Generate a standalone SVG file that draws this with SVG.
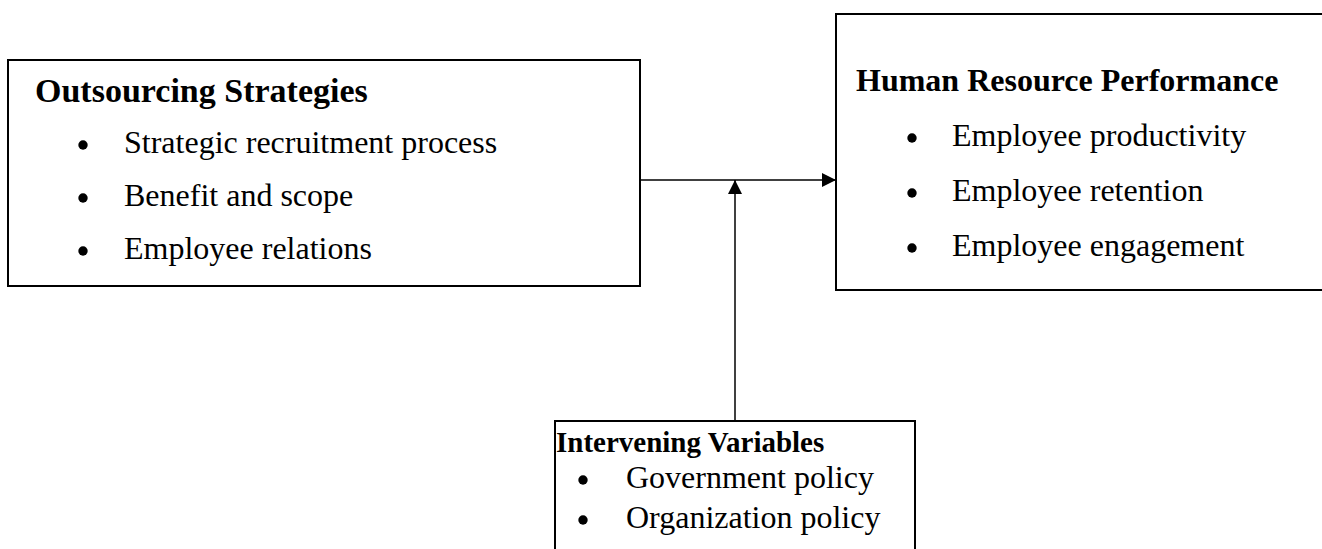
<svg xmlns="http://www.w3.org/2000/svg" width="1322" height="549" viewBox="0 0 1322 549">
<style>
.box{fill:#fff;stroke:#000;stroke-width:2}
.h{font-family:"Liberation Serif","Times New Roman",serif;font-weight:bold;font-size:32px;fill:#000}
.t{font-family:"Liberation Serif","Times New Roman",serif;font-size:32px;fill:#000}
.b{fill:#000}
.c{stroke:#000;stroke-width:1.5;fill:none}
</style>
<defs>
<marker id="ah" viewBox="0 0 10 10" refX="10" refY="5" markerWidth="14" markerHeight="14" markerUnits="userSpaceOnUse" orient="auto">
<path d="M0,0 L10,5 L0,10 z" fill="#000"/>
</marker>
</defs>
<rect width="1322" height="549" fill="#fff"/>
<g id="outsourcing">
<rect class="box" x="8" y="60" width="632" height="226"/>
<text class="h" x="35" y="102" style="font-size:34px">Outsourcing Strategies</text>
<circle class="b" cx="83" cy="145" r="4.7"/>
<text class="t" x="124" y="153">Strategic recruitment process</text>
<circle class="b" cx="83" cy="198" r="4.7"/>
<text class="t" x="124" y="206">Benefit and scope</text>
<circle class="b" cx="83" cy="251" r="4.7"/>
<text class="t" x="124" y="259">Employee relations</text>
</g>
<g id="hrp">
<rect class="box" x="836" y="14" width="490" height="276"/>
<text class="h" x="856" y="91">Human Resource Performance</text>
<circle class="b" cx="912" cy="138" r="4.7"/>
<text class="t" x="952" y="146">Employee productivity</text>
<circle class="b" cx="912" cy="193" r="4.7"/>
<text class="t" x="952" y="201">Employee retention</text>
<circle class="b" cx="912" cy="248" r="4.7"/>
<text class="t" x="952" y="256">Employee engagement</text>
</g>
<g id="intervening">
<rect class="box" x="555" y="421" width="360" height="140"/>
<text class="h" x="556" y="452" style="font-size:29px">Intervening Variables</text>
<circle class="b" cx="583" cy="480" r="4.7"/>
<text class="t" x="626" y="488">Government policy</text>
<circle class="b" cx="583" cy="520" r="4.7"/>
<text class="t" x="626" y="528">Organization policy</text>
</g>
<g id="connectors">
<line class="c" x1="640" y1="180" x2="836" y2="180" marker-end="url(#ah)"/>
<line class="c" x1="735" y1="421" x2="735" y2="180" marker-end="url(#ah)"/>
</g>
</svg>
